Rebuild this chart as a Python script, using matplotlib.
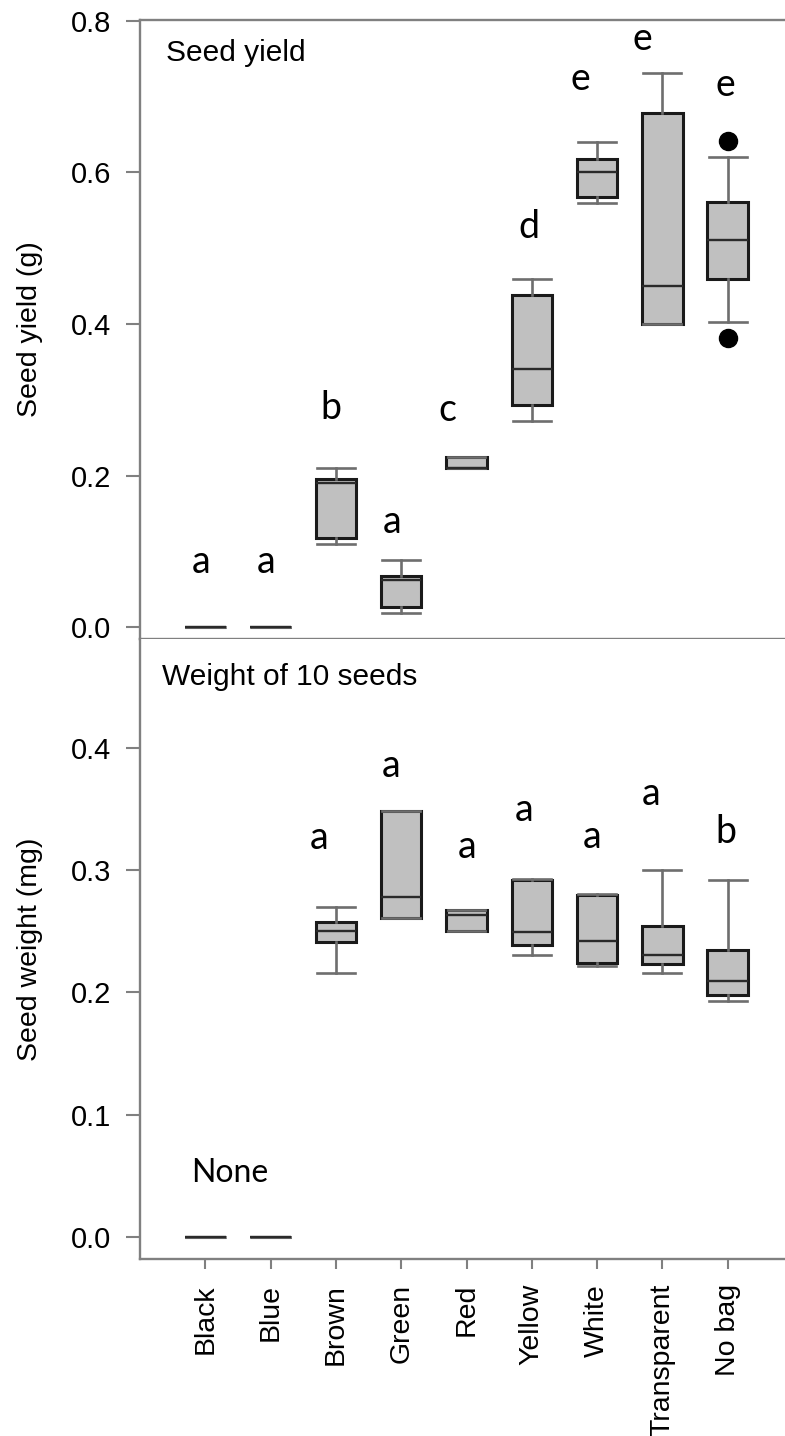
import matplotlib
matplotlib.use("Agg")
import matplotlib.pyplot as plt

# ---------------- data ----------------
categories = ['Black', 'Blue', 'Brown', 'Green', 'Red', 'Yellow', 'White', 'Transparent', 'No bag']

# Seed yield (g)
yield_whislo = [0, 0, 0.110, 0.019, 0.210, 0.272, 0.560, 0.400, 0.403]
yield_q1     = [0, 0, 0.118, 0.027, 0.210, 0.293, 0.568, 0.400, 0.460]
yield_med    = [0, 0, 0.190, 0.062, 0.210, 0.341, 0.600, 0.450, 0.511]
yield_q3     = [0, 0, 0.195, 0.067, 0.225, 0.438, 0.618, 0.678, 0.561]
yield_whishi = [0, 0, 0.210, 0.089, 0.225, 0.460, 0.640, 0.731, 0.620]
yield_fliers = [[], [], [], [], [], [], [], [], [0.641, 0.382]]
yield_letters = ['a', 'a', 'b', 'a', 'c', 'd', 'e', 'e', 'e']
yield_letter_y = [0.086, 0.086, 0.289, 0.139, 0.286, 0.528, 0.723, 0.776, 0.716]
yield_letter_dx = [-0.07, -0.07, -0.075, -0.14, -0.30, -0.04, -0.26, -0.30, -0.04]

# Weight of 10 seeds (mg)
weight_whislo = [0, 0, 0.216, 0.2605, 0.250, 0.2308, 0.222, 0.2158, 0.1931]
weight_q1     = [0, 0, 0.241, 0.2605, 0.250, 0.2384, 0.224, 0.2234, 0.1980]
weight_med    = [0, 0, 0.250, 0.2780, 0.2635, 0.2498, 0.2422, 0.2305, 0.2095]
weight_q3     = [0, 0, 0.2575, 0.348, 0.2676, 0.2916, 0.2799, 0.2545, 0.2349]
weight_whishi = [0, 0, 0.2695, 0.348, 0.2676, 0.2930, 0.2805, 0.3003, 0.2916]
weight_fliers = [[], [], [], [], [], [], [], [], []]
weight_letters = ['', '', 'a', 'a', 'a', 'a', 'a', 'a', 'b']
weight_letter_y = [0, 0, 0.326, 0.385, 0.319, 0.349, 0.327, 0.362, 0.331]
weight_letter_dx = [0, 0, -0.26, -0.16, 0.01, -0.12, -0.08, -0.17, -0.03]

yield_ticks = [0.0, 0.2, 0.4, 0.6, 0.8]
weight_ticks = [0.0, 0.1, 0.2, 0.3, 0.4]

# ---------------- style ----------------
SANS = ['Liberation Sans', 'DejaVu Sans']
LETTER = ['Lato', 'DejaVu Sans']
SPINE = '#808080'
positions = list(range(1, len(categories) + 1))

fig = plt.figure(figsize=(7.85, 14.36), dpi=100)
W, H = 785.0, 1436.0
ax1 = fig.add_axes([140 / W, 1 - 639 / H, 645 / W, 619 / H])
ax2 = fig.add_axes([140 / W, 1 - 1259 / H, 645 / W, 620 / H])


def make_stats(wl, q1, med, q3, wh, fl):
    return [dict(whislo=a, q1=b, med=c, q3=d, whishi=e, fliers=f)
            for a, b, c, d, e, f in zip(wl, q1, med, q3, wh, fl)]


def draw(ax, stats):
    ax.bxp(stats, positions=positions, widths=0.62, capwidths=0.58,
           patch_artist=True, showfliers=True,
           boxprops=dict(facecolor='#c0c0c0', edgecolor='#1a1a1a', linewidth=2.2),
           medianprops=dict(color='#2a2a2a', linewidth=1.7),
           whiskerprops=dict(color='#6e6e6e', linewidth=1.9),
           capprops=dict(color='#6e6e6e', linewidth=1.9),
           flierprops=dict(marker='o', markerfacecolor='black',
                           markeredgecolor='black', markersize=13))


draw(ax1, make_stats(yield_whislo, yield_q1, yield_med, yield_q3, yield_whishi, yield_fliers))
draw(ax2, make_stats(weight_whislo, weight_q1, weight_med, weight_q3, weight_whishi, weight_fliers))

xmax = 645 / 65.3
for ax in (ax1, ax2):
    ax.set_xlim(0, xmax)
    for s in ax.spines.values():
        s.set_color(SPINE)
        s.set_linewidth(1.7)
    ax.spines['right'].set_visible(False)
    ax.tick_params(axis='y', direction='out', length=10, width=1.5, color=SPINE,
                   pad=11)

ax1.set_ylim(-0.0158, 0.8013)
ax2.set_ylim(-0.018, 0.489)
ax2.spines['top'].set_visible(False)

ax1.set_yticks(yield_ticks)
ax1.set_yticklabels([f'{v:.1f}' for v in yield_ticks], fontfamily=SANS, fontsize=21)
ax2.set_yticks(weight_ticks)
ax2.set_yticklabels([f'{v:.1f}' for v in weight_ticks], fontfamily=SANS, fontsize=21)

ax1.set_xticks([])
ax2.set_xticks(positions)
ax2.set_xticklabels(categories, rotation=90, fontfamily=SANS, fontsize=20.5, va='top')
ax2.tick_params(axis='x', direction='out', length=7, width=1.5, color=SPINE, pad=11)

ax1.set_ylabel('Seed yield (g)', fontfamily=SANS, fontsize=20.5)
ax2.set_ylabel('Seed weight (mg)', fontfamily=SANS, fontsize=20.5)
ax1.yaxis.set_label_coords(-0.150, 0.5)
ax2.yaxis.set_label_coords(-0.150, 0.5)

ax1.text(0.040, 0.947, 'Seed yield', transform=ax1.transAxes, fontfamily=SANS,
         fontsize=21.5, ha='left', va='center')
ax2.text(0.034, 0.939, 'Weight of 10 seeds', transform=ax2.transAxes, fontfamily=SANS,
         fontsize=21.5, ha='left', va='center')

for p, t, y, dx in zip(positions, yield_letters, yield_letter_y, yield_letter_dx):
    ax1.text(p + dx, y, t, fontfamily=LETTER, fontsize=27, ha='center', va='center')
for p, t, y, dx in zip(positions, weight_letters, weight_letter_y, weight_letter_dx):
    if t:
        ax2.text(p + dx, y, t, fontfamily=LETTER, fontsize=27, ha='center', va='center')

ax2.text(1.37, 0.052, 'None', fontfamily=LETTER, fontsize=23, ha='center', va='center')

fig.savefig('out.png', dpi=100)
